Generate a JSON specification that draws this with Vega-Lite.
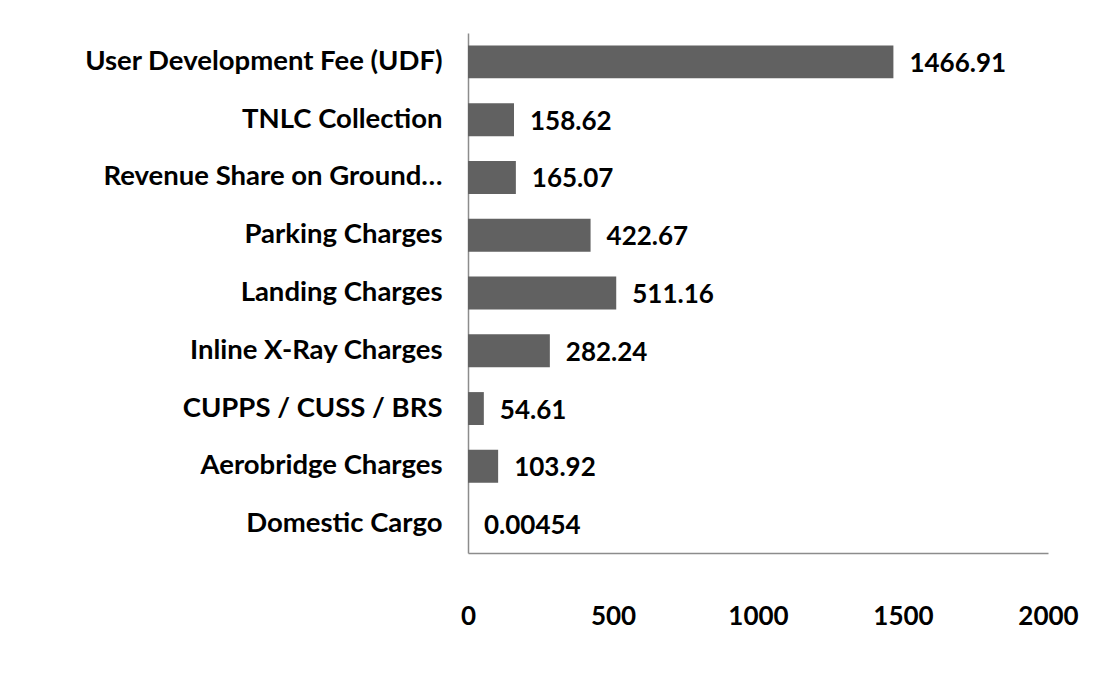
{
  "$schema": "https://vega.github.io/schema/vega-lite/v6.json",
  "autosize": {"type": "none"},
  "width": 580,
  "height": 520,
  "padding": {"left": 468, "top": 33, "right": 52, "bottom": 126},
  "background": "white",
  "config": {
    "view": {"stroke": null},
    "font": "Lato"
  },
  "data": {
    "values": [
      {"category": "User Development Fee (UDF)", "value": 1466.91, "label": "1466.91"},
      {"category": "TNLC Collection", "value": 158.62, "label": "158.62"},
      {"category": "Revenue Share on Ground…", "value": 165.07, "label": "165.07"},
      {"category": "Parking Charges", "value": 422.67, "label": "422.67"},
      {"category": "Landing Charges", "value": 511.16, "label": "511.16"},
      {"category": "Inline X-Ray Charges", "value": 282.24, "label": "282.24"},
      {"category": "CUPPS / CUSS / BRS", "value": 54.61, "label": "54.61"},
      {"category": "Aerobridge Charges", "value": 103.92, "label": "103.92"},
      {"category": "Domestic Cargo", "value": 0.00454, "label": "0.00454"}
    ]
  },
  "encoding": {
    "y": {
      "field": "category",
      "type": "nominal",
      "sort": null,
      "scale": {"paddingInner": 0.43, "paddingOuter": 0.215},
      "axis": {
        "title": null,
        "ticks": false,
        "domainColor": "#8c8c8c",
        "domainWidth": 1.5,
        "labelFont": "Lato",
        "labelFontWeight": "bold",
        "labelFontSize": 27.5,
        "labelColor": "#000000",
        "labelPadding": 26,
        "labelLimit": 500
      }
    },
    "x": {
      "field": "value",
      "type": "quantitative",
      "scale": {"domain": [0, 2000], "nice": false},
      "axis": {
        "title": null,
        "values": [0, 500, 1000, 1500, 2000],
        "format": "d",
        "labelFlush": false,
        "grid": false,
        "ticks": false,
        "domainColor": "#8c8c8c",
        "domainWidth": 1.5,
        "labelFont": "Lato",
        "labelFontWeight": "bold",
        "labelFontSize": 26,
        "labelColor": "#000000",
        "labelPadding": 50
      }
    }
  },
  "layer": [
    {"mark": {"type": "bar", "color": "#616161"}},
    {
      "mark": {"type": "text", "align": "left", "baseline": "middle", "dx": 16, "dy": 2, "font": "Lato", "fontWeight": "bold", "fontSize": 26, "color": "#000000"},
      "encoding": {"text": {"field": "label"}}
    }
  ]
}
